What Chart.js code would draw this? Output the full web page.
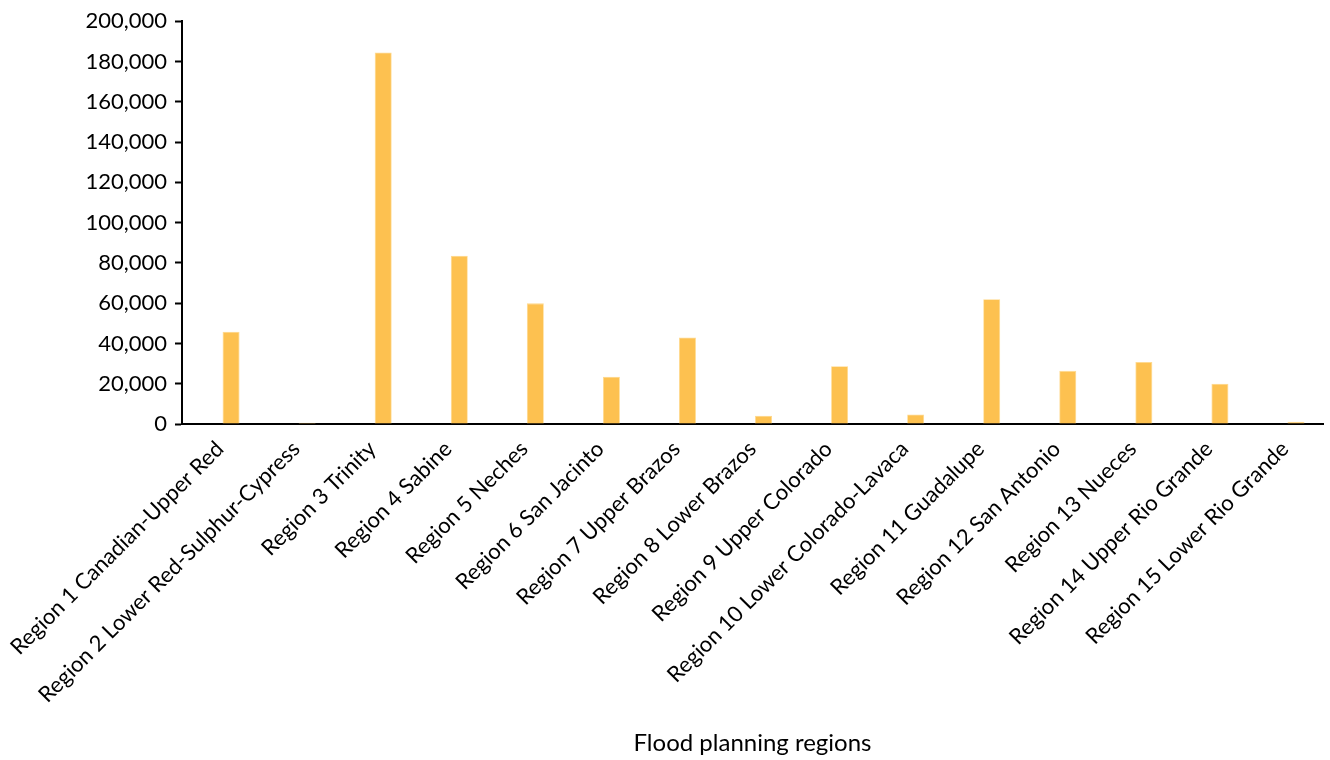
<!DOCTYPE html>
<html>
<head>
<meta charset="utf-8">
<script src="https://cdn.jsdelivr.net/npm/chart.js@4/dist/chart.umd.min.js"></script>
<style>
  html, body { margin: 0; padding: 0; background: #ffffff; }
  #wrap { width: 1330px; height: 760px; }
</style>
</head>
<body>
<div id="wrap"><canvas id="chart" width="1330" height="760"></canvas></div>
<script>
const regions = [
  'Region 1 Canadian-Upper Red',
  'Region 2 Lower Red-Sulphur-Cypress',
  'Region 3 Trinity',
  'Region 4 Sabine',
  'Region 5 Neches',
  'Region 6 San Jacinto',
  'Region 7 Upper Brazos',
  'Region 8 Lower Brazos',
  'Region 9 Upper Colorado',
  'Region 10 Lower Colorado-Lavaca',
  'Region 11 Guadalupe',
  'Region 12 San Antonio',
  'Region 13 Nueces',
  'Region 14 Upper Rio Grande',
  'Region 15 Lower Rio Grande'
];

const regionValues = [
  45800, 600, 184500, 83600, 59900, 23500, 43000, 4100,
  28700, 4750, 62000, 26400, 30800, 20000, 1100
];

const yTicks = [0, 20000, 40000, 60000, 80000, 100000, 120000, 140000, 160000, 180000, 200000];

const xTitle = 'Flood planning regions';
const FONT = 'Lato, "Open Sans", sans-serif';

new Chart(document.getElementById('chart'), {
  type: 'bar',
  data: {
    labels: regions,
    datasets: [
      {
        // empty companion series keeps the bar in the right-hand slot of each group
        label: '',
        data: regions.map(() => null),
        backgroundColor: 'rgba(0,0,0,0)'
      },
      {
        label: 'Regions',
        data: regionValues,
        backgroundColor: '#FDC150',
        borderColor: '#FFD98A',
        borderWidth: 0.8
      }
    ]
  },
  options: {
    responsive: false,
    animation: false,
    datasets: { bar: { categoryPercentage: 0.58, barPercentage: 0.77 } },
    layout: { padding: { top: 9, right: 7, left: 0, bottom: 2 } },
    plugins: {
      legend: { display: false },
      tooltip: { enabled: false }
    },
    scales: {
      x: {
        grid: { display: false, drawTicks: false },
        border: { display: true, color: '#000000', width: 2 },
        ticks: {
          color: '#000000',
          font: { family: FONT, size: 22 },
          maxRotation: 45,
          minRotation: 45,
          autoSkip: false,
          padding: 12
        },
        title: {
          display: true,
          text: xTitle,
          color: '#000000',
          font: { family: FONT, size: 24 },
          padding: { top: 4, bottom: 0 }
        },
        afterFit(scale) {
          scale.height = 334;
          scale.paddingLeft = 0;
          scale.paddingRight = 0;
        }
      },
      y: {
        min: 0,
        max: 200000,
        afterBuildTicks(scale) { scale.ticks = yTicks.map(v => ({ value: v })); },
        grid: {
          display: true,
          drawOnChartArea: false,
          drawTicks: true,
          tickLength: 7,
          tickWidth: 2,
          color: '#000000'
        },
        border: { display: true, color: '#000000', width: 2 },
        ticks: {
          color: '#000000',
          font: { family: FONT, size: 22 },
          padding: 8,
          callback: v => Number(v).toLocaleString('en-US')
        },
        afterFit(scale) { scale.width = 182; }
      }
    }
  }
});
</script>
</body>
</html>
